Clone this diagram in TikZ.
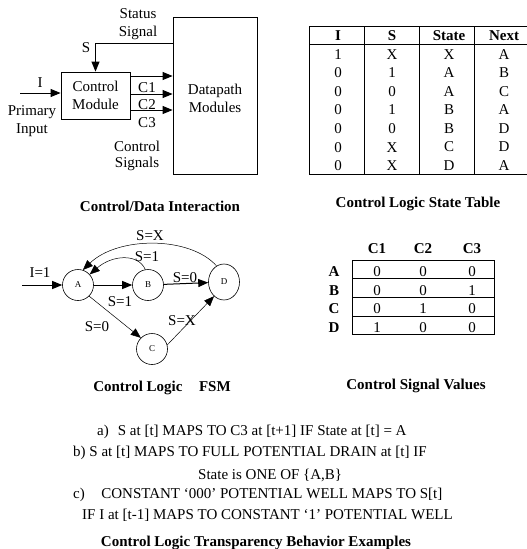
\documentclass[tikz,border=0pt]{standalone}
\usepackage{fontspec}
\setmainfont{Liberation Serif}
\usetikzlibrary{arrows.meta,shapes.geometric}
\begin{document}
\begin{tikzpicture}[x=1pt,y=-1pt,
  txt/.style={inner sep=0pt,font=\fontsize{15}{17}\selectfont},
  captxt/.style={inner sep=0pt,font=\fontsize{15}{17}\selectfont\bfseries},
  box/.style={draw,line width=0.8pt},
  arr/.style={line width=1pt,-{Triangle[length=10pt,width=8pt]}},
  thinarr/.style={line width=0.5pt,-{Triangle[length=10pt,width=8pt]}},
  st/.style={draw,ellipse,line width=0.6pt,minimum width=31pt,minimum height=31pt,inner sep=0pt,font=\fontsize{9}{10}\selectfont},
  tabrule/.style={line width=0.8pt}]
\useasboundingbox (0,0) rectangle (527,549);

% ---- control / datapath block diagram
\node[txt] (status1) at (138,14) {Status};
\node[txt] (status2) at (138,33) {Signal};
\node[box,minimum width=84pt,minimum height=157pt] (dp) at (215,95.5) {};
\node[txt,align=center] (dptext) at (215,98) {Datapath\\[1pt]Modules};
\node[box,minimum width=69pt,minimum height=47pt,align=center,txt,inner sep=0pt] (ctrl) at (95.5,95.5) {Control\\[1pt]Module};
\node[txt] (slab) at (86,48) {S};
\coordinate (sfrom) at (173,43);
\draw[arr] (sfrom) -| (ctrl.north);
\coordinate (iin) at (20,93);
\draw[arr] (iin) -- (ctrl.west |- iin);
\node[txt] (ilab) at (40,83) {I};
\node[txt] (prim) at (32,112) {Primary};
\node[txt] (inp) at (32,130) {Input};
\coordinate (c1y) at (0,76);
\coordinate (c2y) at (0,94);
\coordinate (c3y) at (0,110);
\draw[arr] (ctrl.east |- c1y) -- (dp.west |- c1y);
\draw[arr] (ctrl.east |- c2y) -- (dp.west |- c2y);
\draw[arr] (ctrl.east |- c3y) -- (dp.west |- c3y);
\node[txt] (c1lab) at (147,88) {C1};
\node[txt] (c2lab) at (147,105) {C2};
\node[txt] (c3lab) at (147,123) {C3};
\node[txt] (cs1) at (137,146) {Control};
\node[txt] (cs2) at (137,164) {Signals};
\node[captxt] (cap1) at (160,206) {Control/Data Interaction};

% ---- state table
\draw[tabrule] (309,26) -- (527,26);
\draw[tabrule] (309,44) -- (527,44);
\draw[tabrule] (309,174) -- (527,174);
\foreach \x in {309,364,419,474} \draw[line width=0.5pt] (\x,26) -- (\x,174);
\node[captxt] (hI) at (338,36) {I};
\node[captxt] (hS) at (392,36) {S};
\node[captxt] (hState) at (449,36) {State};
\node[captxt] (hNext) at (504,36) {Next};
\foreach \i/\s/\q/\n [count=\r] in {1/X/X/A,0/1/A/B,0/0/A/C,0/1/B/A,0/0/B/D,0/X/C/D,0/X/D/A}{
  \node[txt] (tI\r) at (338,{35.5+18.6*\r}) {\i};
  \node[txt] (tS\r) at (392,{35.5+18.6*\r}) {\s};
  \node[txt] (tQ\r) at (449,{35.5+18.6*\r}) {\q};
  \node[txt] (tN\r) at (504,{35.5+18.6*\r}) {\n};
}
\node[captxt] (cap2) at (418,204) {Control Logic State Table};

% ---- FSM
\node[st] (A) at (78,285) {A};
\node[st] (B) at (148,285) {B};
\node[st,minimum height=36pt] (D) at (224,282) {D};
\node[st] (C) at (152,349) {C};
\coordinate (fin) at (22,285);
\draw[arr] (fin) -- (A);
\node[txt] (l1) at (40,273) {I=1};
\draw[arr] (A) -- (B);
\draw[arr] (B) -- (D);
\node[txt] (l2) at (185,278) {S=0};
\draw[thinarr] (B.100) .. controls (138,253) and (112,255) .. (A.42);
\node[txt] (l3) at (147,257) {S=1};
\draw[thinarr] (D.115) .. controls (190,236) and (118,236) .. (A.72);
\node[txt] (l4) at (150,236) {S=X};
\draw[thinarr] (A.-45) -- (C.135);
\node[txt] (l5) at (120,302) {S=1};
\node[txt] (l6) at (97,327) {S=0};
\draw[thinarr] (C.15) -- (D.-125);
\node[txt] (l7) at (182,321) {S=X};
\node[captxt] (cap3) at (162,388) {Control Logic\hspace{1.1em}FSM};

% ---- control signal values
\node[captxt] (vC1) at (377,249) {C1};
\node[captxt] (vC2) at (423,249) {C2};
\node[captxt] (vC3) at (472,249) {C3};
\draw[tabrule] (352,260) rectangle (494,334);
\foreach \y in {278,297,316} \draw[tabrule] (352,\y) -- (494,\y);
\foreach \s/\a/\b/\c [count=\r] in {A/0/0/0,B/0/0/1,C/0/1/0,D/1/0/0}{
  \node[captxt] (vr\r) at (334,{253+18.6*\r}) {\s};
  \node[txt] (va\r) at (377,{253+18.6*\r}) {\a};
  \node[txt] (vb\r) at (423,{253+18.6*\r}) {\b};
  \node[txt] (vc\r) at (472,{253+18.6*\r}) {\c};
}
\node[captxt] (cap4) at (416,386) {Control Signal Values};

% ---- transparency examples
\node[txt,anchor=west] (ea) at (97,432) {a)\hspace{0.6em}S at [t] MAPS TO C3 at [t+1] IF State at [t] = A};
\node[txt,anchor=west] (eb) at (73,453) {b) S at [t] MAPS TO FULL POTENTIAL DRAIN at [t] IF};
\node[txt,anchor=west] (eb2) at (198,475) {State is ONE OF \{A,B\}};
\node[txt,anchor=west] (ec) at (73,495) {c)\hspace{1.1em}CONSTANT `000' POTENTIAL WELL MAPS TO S[t]};
\node[txt,anchor=west] (ec2) at (82,515) {IF I at [t-1] MAPS TO CONSTANT `1' POTENTIAL WELL};
\node[captxt] (cap5) at (256,543) {Control Logic Transparency Behavior Examples};
\end{tikzpicture}
\end{document}
